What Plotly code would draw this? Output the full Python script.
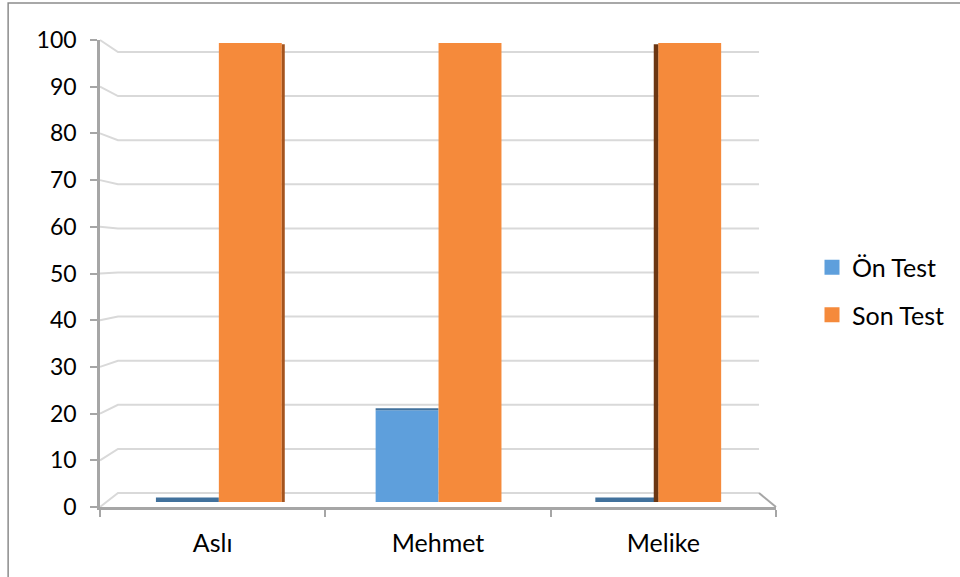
import plotly.graph_objects as go

# ---- data ----
categories = ["Aslı", "Mehmet", "Melike"]
on_test = [0, 20, 0]
son_test = [100, 100, 100]
y_ticks = [0, 10, 20, 30, 40, 50, 60, 70, 80, 90, 100]
series_names = ["Ön Test", "Son Test"]

# ---- style ----
BLUE = "#5e9fdc"
BLUE_TOP = "#41719c"
ORANGE = "#f58a3b"
SIDE_COLORS = ["#a4541e", "#a4541e", "#6b3612"]
SIDE_PX = [3, 0, -4.5]          # visible side face width per category (perspective)
GRID = "#d9d9d9"
AXIS = "#a6a6a6"
FONT = "Lato"
NUM_SIZE = 23
TEXT_SIZE = 25

W, H = 960, 577
L, R, T, B = 100, 183, 40, 70
PW, PH = W - L - R, H - T - B        # plot area in px
BAR_W = 0.2864
PX_PER_UNIT_X2 = 220.0

# x axis for bars (mid depth)
X2_RANGE = [-0.541, 2.536]
# y axis for bars (mid depth): value 0 -> 5px above front floor, 100 -> 3px below front top
Y2_RANGE = [-1.089, 100.65]

def px_x(px):
    return (px - L) / PW

def px_y(py):
    return (H - B - py) / PH

FRONT0, FRONT_K = H - B, PH / 100.0     # front axis: 0 at 507, 4.67 px / unit
BACK0, BACK_K = 493.0, 4.41              # back wall
BACK_X0, BACK_X1 = 118.0, 760.0

fig = go.Figure()

# bars
xs = list(range(len(categories)))
fig.add_trace(go.Bar(
    x=[i - BAR_W / 2 for i in xs], y=on_test, width=[BAR_W] * len(xs),
    marker=dict(color=BLUE, line=dict(width=0)), name=series_names[0],
    legendgroup="on", showlegend=False, xaxis="x2", yaxis="y2"))
top_thick = [max(0.0, 1.0 * (1 - v / 36.0)) for v in on_test]
fig.add_trace(go.Bar(
    x=[i - BAR_W / 2 for i in xs], y=top_thick, base=on_test, width=[BAR_W] * len(xs),
    marker=dict(color=BLUE_TOP, line=dict(width=0)), name=series_names[0],
    legendgroup="on", showlegend=False, hoverinfo="skip", xaxis="x2", yaxis="y2"))
fig.add_trace(go.Bar(
    x=[i + BAR_W / 2 for i in xs], y=son_test, width=[BAR_W] * len(xs),
    marker=dict(color=ORANGE, line=dict(width=0)), name=series_names[1],
    legendgroup="son", showlegend=False, xaxis="x2", yaxis="y2"))
side_x, side_w, side_y, side_c = [], [], [], []
for i, s, v, c in zip(xs, SIDE_PX, son_test, SIDE_COLORS):
    if s == 0:
        continue
    w = abs(s) / PX_PER_UNIT_X2
    side_x.append(i + BAR_W + w / 2 if s > 0 else i - w / 2)
    side_w.append(w)
    side_y.append(v - 0.3)
    side_c.append(c)
fig.add_trace(go.Bar(
    x=side_x, y=side_y, width=side_w,
    marker=dict(color=side_c, line=dict(width=0)), name=series_names[1],
    legendgroup="son", showlegend=False, hoverinfo="skip", xaxis="x2", yaxis="y2"))

# legend entries
for nm, col, grp in [(series_names[0], BLUE, "on"), (series_names[1], ORANGE, "son")]:
    fig.add_trace(go.Scatter(
        x=[None], y=[None], mode="markers", name=nm, legendgroup=grp,
        marker=dict(symbol="square", size=15, color=col), hoverinfo="skip"))

# 3D back-wall gridlines and floor
shapes = []
for v in y_ticks:
    fy = FRONT0 - FRONT_K * v
    by = BACK0 - BACK_K * v
    shapes.append(dict(
        type="path", xref="paper", yref="paper", layer="below",
        path=f"M{px_x(L)},{px_y(fy)} L{px_x(BACK_X0)},{px_y(by)} L{px_x(BACK_X1)},{px_y(by)}",
        line=dict(color=GRID, width=2)))
# floor right edge
shapes.append(dict(
    type="line", xref="paper", yref="paper", layer="below",
    x0=px_x(BACK_X1), y0=px_y(BACK0), x1=px_x(L + PW), y1=px_y(FRONT0),
    line=dict(color=AXIS, width=2)))
# outer chart border
shapes.append(dict(
    type="rect", xref="paper", yref="paper", layer="above",
    x0=px_x(8), y0=-1, x1=3, y1=px_y(3),
    line=dict(color="#8c8c8c", width=1.5), fillcolor="rgba(0,0,0,0)"))

fig.update_layout(
    width=W, height=H, autosize=False,
    margin=dict(l=L, r=R, t=T, b=B),
    paper_bgcolor="white", plot_bgcolor="white",
    barmode="overlay",
    font=dict(family=FONT, size=NUM_SIZE, color="#000000"),
    shapes=shapes,
    showlegend=True,
    legend=dict(x=px_x(812), y=px_y(291), xanchor="left", yanchor="middle",
                font=dict(family=FONT, size=TEXT_SIZE, color="#000000"),
                tracegroupgap=12, bgcolor="rgba(0,0,0,0)", itemclick="toggle"),
    xaxis=dict(
        range=[-0.5, 2.5], tickvals=xs, ticktext=categories, ticks="",
        tickfont=dict(family=FONT, size=TEXT_SIZE, color="#000000"),
        showline=True, linecolor=AXIS, linewidth=2.5, showgrid=False, zeroline=False,
        ticklabelstandoff=12, fixedrange=True,
        minor=dict(tickvals=[-0.5, 0.5, 1.5, 2.5], ticks="outside", ticklen=7,
                   tickcolor=AXIS, tickwidth=1.5, showgrid=False)),
    yaxis=dict(
        range=[0, 100], tickvals=y_ticks, ticks="outside", ticklen=7,
        tickfont=dict(family=FONT, size=NUM_SIZE, color="#000000"),
        tickcolor=AXIS, tickwidth=1.5, showline=True, linecolor=AXIS, linewidth=2.5,
        showgrid=False, zeroline=False, ticklabelstandoff=9, fixedrange=True),
    xaxis2=dict(range=X2_RANGE, overlaying="x", visible=False, fixedrange=True),
    yaxis2=dict(range=Y2_RANGE, overlaying="y", visible=False, fixedrange=True),
)

fig.write_html("out.html")
